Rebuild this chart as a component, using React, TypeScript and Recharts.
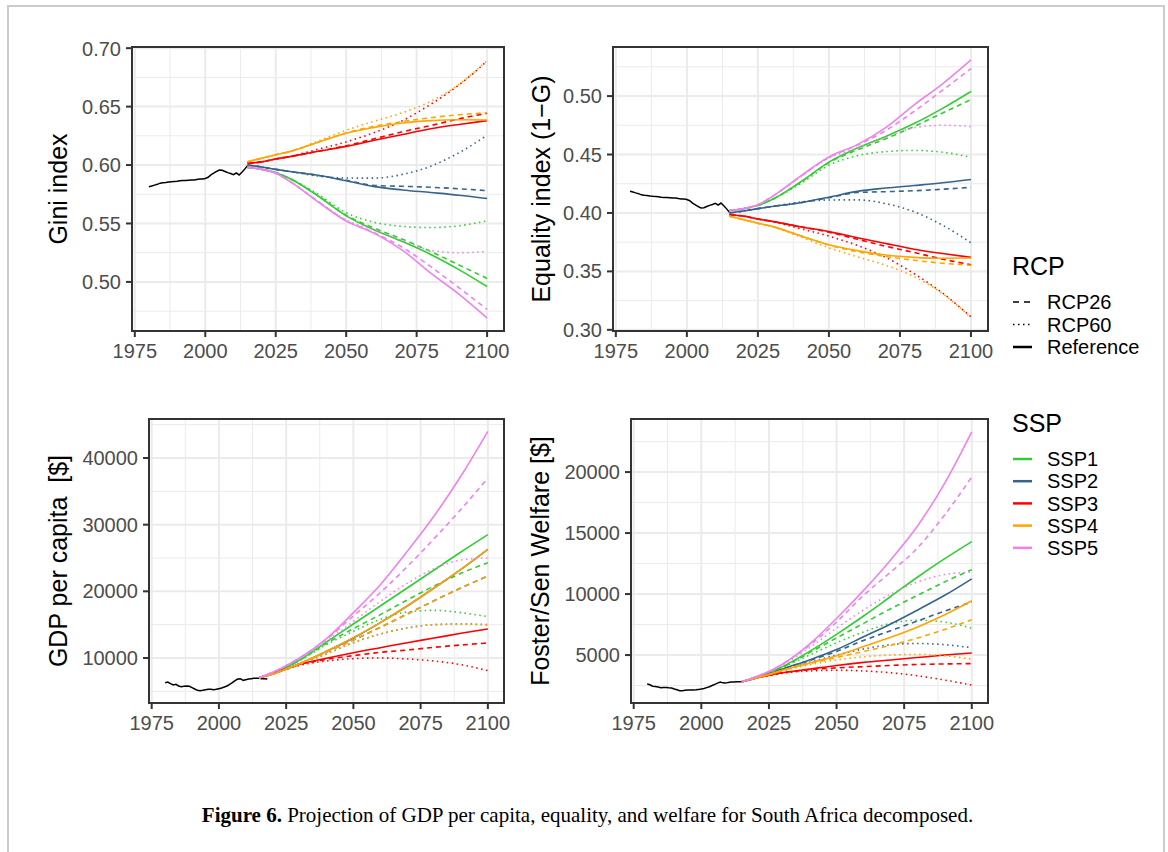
import { CartesianGrid, Line, LineChart, ReferenceArea, XAxis, YAxis } from 'recharts'

const FONT = '"Liberation Sans", Arial, Helvetica, sans-serif'

const SSPS = ['SSP1', 'SSP2', 'SSP3', 'SSP4', 'SSP5']
const RCPS = ['Reference', 'RCP26', 'RCP60']
const SSP_COLORS = ['#32CD32', '#36648B', '#FF0000', '#FFA500', '#EE82EE']

const X_DOMAIN: [number, number] = [1974, 2106]
const X_TICKS = [1975, 2000, 2025, 2050, 2075, 2100]
const X_MINOR = [1987.5, 2012.5, 2037.5, 2062.5, 2087.5]

const PROJ_YEARS = [2015, 2020, 2025, 2030, 2040, 2050, 2060, 2070, 2080, 2090, 2100]
const HIST_YEARS = [
	1980, 1981, 1982, 1983, 1984, 1985, 1986, 1987, 1988, 1989, 1990, 1991, 1992,
	1993, 1994, 1995, 1996, 1997, 1998, 1999, 2000, 2001, 2002, 2003, 2004, 2005,
	2006, 2007, 2008, 2009, 2010, 2011, 2012, 2013, 2014, 2015,
]
const GDP_HIST_YEARS = [...HIST_YEARS, 2016, 2017, 2018]

// Gini index
const GINI_HIST = [
	0.5815, 0.582, 0.5828, 0.5835, 0.5845, 0.5848, 0.585, 0.5855, 0.5858, 0.586,
	0.5862, 0.5865, 0.5867, 0.5867, 0.587, 0.5873, 0.5872, 0.5877, 0.588, 0.588,
	0.5885, 0.5895, 0.5915, 0.593, 0.5945, 0.5958, 0.5955, 0.5945, 0.5935, 0.5928,
	0.5918, 0.5932, 0.5915, 0.5938, 0.5965, 0.5995,
]
// rows: Reference, RCP26, RCP60
const GINI_SSP1 = [
	[0.598, 0.5963, 0.5935, 0.5885, 0.5735, 0.5565, 0.5445, 0.5345, 0.5235, 0.5105, 0.496],
	[0.598, 0.5963, 0.5935, 0.5885, 0.5738, 0.557, 0.546, 0.5365, 0.526, 0.5145, 0.503],
	[0.598, 0.5963, 0.5935, 0.5885, 0.575, 0.5592, 0.551, 0.5475, 0.5465, 0.548, 0.5523],
]
const GINI_SSP2 = [
	[0.6, 0.5983, 0.5963, 0.5945, 0.5912, 0.5865, 0.5815, 0.5787, 0.5765, 0.5742, 0.5714],
	[0.6, 0.5983, 0.5963, 0.5945, 0.5912, 0.587, 0.5825, 0.5818, 0.581, 0.5797, 0.5781],
	[0.6, 0.5983, 0.5963, 0.5945, 0.5906, 0.5889, 0.5888, 0.592, 0.599, 0.6105, 0.6255],
]
const GINI_SSP3 = [
	[0.6015, 0.6027, 0.6052, 0.6072, 0.6118, 0.616, 0.6212, 0.6262, 0.631, 0.6347, 0.638],
	[0.6015, 0.6027, 0.6052, 0.6072, 0.6118, 0.6165, 0.6225, 0.6285, 0.6338, 0.6395, 0.6443],
	[0.6015, 0.6027, 0.6052, 0.6074, 0.6135, 0.6198, 0.6278, 0.638, 0.652, 0.6685, 0.689],
]
const GINI_SSP4 = [
	[0.6028, 0.6058, 0.6088, 0.6115, 0.6195, 0.6272, 0.6322, 0.636, 0.638, 0.6388, 0.6386],
	[0.6028, 0.6058, 0.6088, 0.6115, 0.6195, 0.6275, 0.6332, 0.6372, 0.6405, 0.643, 0.6448],
	[0.6028, 0.6058, 0.6088, 0.6117, 0.6205, 0.6298, 0.6375, 0.6448, 0.6545, 0.669, 0.6895],
]
const GINI_SSP5 = [
	[0.598, 0.5963, 0.593, 0.586, 0.5685, 0.552, 0.5415, 0.527, 0.5075, 0.4895, 0.469],
	[0.598, 0.5963, 0.593, 0.586, 0.5688, 0.5525, 0.542, 0.5295, 0.513, 0.495, 0.4765],
	[0.598, 0.5963, 0.593, 0.586, 0.569, 0.553, 0.5445, 0.5355, 0.527, 0.525, 0.526],
]

// Equality index (1 - G)
const EQ_HIST = [
	0.4185, 0.418, 0.4172, 0.4165, 0.4155, 0.4152, 0.415, 0.4145, 0.4142, 0.414,
	0.4138, 0.4135, 0.4133, 0.4133, 0.413, 0.4127, 0.4128, 0.4123, 0.412, 0.412,
	0.4115, 0.4105, 0.4085, 0.407, 0.4055, 0.4042, 0.4045, 0.4055, 0.4065, 0.4072,
	0.4082, 0.4068, 0.4085, 0.4062, 0.4035, 0.4005,
]
const EQ_SSP1 = [
	[0.402, 0.4037, 0.4065, 0.4115, 0.4265, 0.4435, 0.4555, 0.4655, 0.4765, 0.4895, 0.504],
	[0.402, 0.4037, 0.4065, 0.4115, 0.4262, 0.443, 0.454, 0.4635, 0.474, 0.4855, 0.497],
	[0.402, 0.4037, 0.4065, 0.4115, 0.425, 0.4408, 0.449, 0.4525, 0.4535, 0.452, 0.4477],
]
const EQ_SSP2 = [
	[0.4, 0.4017, 0.4037, 0.4055, 0.4088, 0.4135, 0.4185, 0.4213, 0.4235, 0.4258, 0.4286],
	[0.4, 0.4017, 0.4037, 0.4055, 0.4088, 0.413, 0.4175, 0.4182, 0.419, 0.4203, 0.4219],
	[0.4, 0.4017, 0.4037, 0.4055, 0.4094, 0.4111, 0.4112, 0.408, 0.401, 0.3895, 0.3745],
]
const EQ_SSP3 = [
	[0.3985, 0.3973, 0.3948, 0.3928, 0.3882, 0.384, 0.3788, 0.3738, 0.369, 0.3653, 0.362],
	[0.3985, 0.3973, 0.3948, 0.3928, 0.3882, 0.3835, 0.3775, 0.3715, 0.3662, 0.3605, 0.3557],
	[0.3985, 0.3973, 0.3948, 0.3926, 0.3865, 0.3802, 0.3722, 0.362, 0.348, 0.3315, 0.311],
]
const EQ_SSP4 = [
	[0.3972, 0.3942, 0.3912, 0.3885, 0.3805, 0.3728, 0.3678, 0.364, 0.362, 0.3612, 0.3614],
	[0.3972, 0.3942, 0.3912, 0.3885, 0.3805, 0.3725, 0.3668, 0.3628, 0.3595, 0.357, 0.3552],
	[0.3972, 0.3942, 0.3912, 0.3883, 0.3795, 0.3702, 0.3625, 0.3552, 0.3455, 0.331, 0.3105],
]
const EQ_SSP5 = [
	[0.402, 0.4037, 0.407, 0.414, 0.4315, 0.448, 0.4585, 0.473, 0.4925, 0.5105, 0.531],
	[0.402, 0.4037, 0.407, 0.414, 0.4312, 0.4475, 0.458, 0.4705, 0.487, 0.505, 0.5235],
	[0.402, 0.4037, 0.407, 0.414, 0.431, 0.447, 0.4555, 0.4645, 0.473, 0.475, 0.474],
]

// GDP per capita [$]
const GDP_HIST = [
	6300, 6400, 6150, 5950, 6050, 5800, 5700, 5750, 5800, 5750, 5550, 5350, 5150,
	5100, 5150, 5250, 5300, 5300, 5250, 5300, 5400, 5500, 5650, 5800, 6050, 6300,
	6600, 6850, 6900, 6650, 6750, 6850, 6900, 6950, 6950, 6950, 6900, 6900, 6850,
]
const GDP_SSP1 = [
	[7050, 7750, 8600, 9700, 12400, 15100, 17800, 20500, 23200, 25900, 28500],
	[7050, 7750, 8600, 9650, 12200, 14400, 16500, 18700, 20800, 22700, 24300],
	[7050, 7750, 8600, 9600, 12000, 14000, 15800, 16900, 17150, 16800, 16200],
]
const GDP_SSP2 = [
	[7050, 7600, 8350, 9150, 11000, 13000, 15300, 17800, 20500, 23300, 26300],
	[7050, 7600, 8350, 9150, 10900, 12700, 14600, 16600, 18600, 20500, 22300],
	[7050, 7600, 8350, 9100, 10600, 12300, 13600, 14500, 15000, 15100, 15000],
]
const GDP_SSP3 = [
	[7050, 7700, 8350, 9050, 9950, 10800, 11550, 12300, 13000, 13700, 14350],
	[7050, 7700, 8350, 9000, 9800, 10350, 10850, 11200, 11600, 11950, 12250],
	[7050, 7700, 8300, 8900, 9550, 9900, 10000, 9850, 9550, 9000, 8100],
]
const GDP_SSP4 = [
	[7050, 7600, 8350, 9150, 11000, 13050, 15300, 17800, 20500, 23300, 26300],
	[7050, 7600, 8350, 9150, 10900, 12700, 14600, 16600, 18600, 20500, 22300],
	[7050, 7600, 8350, 9100, 10600, 12300, 13600, 14500, 15000, 15050, 14950],
]
const GDP_SSP5 = [
	[7050, 7850, 8850, 10000, 12900, 16800, 21000, 26000, 31300, 37300, 44000],
	[7050, 7850, 8850, 10000, 12800, 16300, 19800, 23700, 27900, 32300, 37000],
	[7050, 7850, 8850, 9950, 12500, 15500, 18500, 21200, 23400, 24700, 25000],
]

// Foster/Sen welfare [$]
const WELFARE_HIST = [
	2620, 2560, 2450, 2420, 2380, 2330, 2350, 2350, 2320, 2300, 2220, 2150, 2080,
	2070, 2110, 2130, 2140, 2130, 2150, 2180, 2210, 2260, 2330, 2400, 2500, 2600,
	2700, 2780, 2720, 2700, 2760, 2790, 2800, 2810, 2810, 2810,
]
const WELFARE_SSP1 = [
	[2820, 3150, 3550, 4050, 5300, 6700, 8200, 9800, 11400, 12900, 14300],
	[2820, 3150, 3550, 4000, 5200, 6400, 7600, 8800, 9900, 11000, 12000],
	[2820, 3150, 3550, 4000, 5000, 6000, 6900, 7600, 7850, 7700, 7200],
]
const WELFARE_SSP2 = [
	[2820, 3100, 3450, 3850, 4600, 5450, 6500, 7550, 8700, 9900, 11250],
	[2820, 3100, 3450, 3850, 4550, 5300, 6200, 7000, 7800, 8600, 9350],
	[2820, 3100, 3450, 3800, 4400, 5000, 5500, 5850, 5950, 5850, 5600],
]
const WELFARE_SSP3 = [
	[2820, 3100, 3350, 3550, 3850, 4150, 4400, 4600, 4800, 5000, 5170],
	[2820, 3100, 3350, 3550, 3800, 3950, 4050, 4150, 4230, 4270, 4300],
	[2820, 3100, 3300, 3500, 3700, 3750, 3700, 3550, 3300, 2950, 2540],
]
const WELFARE_SSP4 = [
	[2820, 3100, 3400, 3750, 4350, 4950, 5700, 6450, 7300, 8300, 9450],
	[2820, 3100, 3400, 3750, 4300, 4800, 5300, 5800, 6400, 7100, 7900],
	[2820, 3100, 3400, 3700, 4200, 4600, 4850, 5000, 5050, 4950, 4650],
]
const WELFARE_SSP5 = [
	[2820, 3200, 3650, 4250, 5900, 8000, 10300, 12800, 15600, 19100, 23300],
	[2820, 3200, 3650, 4250, 5800, 7700, 9900, 11800, 13800, 16500, 19600],
	[2820, 3200, 3650, 4200, 5600, 7200, 8700, 10000, 11000, 11600, 11800],
]

const RCP_DASH: Record<string, string | undefined> = {
	Reference: undefined,
	RCP26: '5 4',
	RCP60: '1.5 3.5',
}

type Point = { year: number; value: number }

const toPoints = (years: number[], values: number[]): Point[] =>
	years.map((year, i) => ({ year, value: values[i] }))

interface PanelProps {
	left: number
	top: number
	plotWidth: number
	plotHeight: number
	yDomain: [number, number]
	yTicks: number[]
	yMinor: number[]
	decimals: number
	hist: Point[]
	scenarios: number[][][]
	title: string
	titleX: number
}

function Panel({
	left,
	top,
	plotWidth,
	plotHeight,
	yDomain,
	yTicks,
	yMinor,
	decimals,
	hist,
	scenarios,
	title,
	titleX,
}: PanelProps) {
	const yw = 90
	const mt = 10
	const mr = 12
	const xh = 40
	const tickStyle = { fontSize: 20, fill: '#4D4D4D', fontFamily: FONT }

	return (
		<>
			<div style={{ position: 'absolute', left: left - yw, top: top - mt }}>
				<LineChart
					height={mt + plotHeight + xh}
					margin={{ top: mt, right: mr, bottom: 0, left: 0 }}
					width={yw + plotWidth + mr}
				>
					<CartesianGrid
						horizontalValues={yMinor}
						stroke="#EBEBEB"
						strokeWidth={1}
						verticalValues={X_MINOR}
					/>
					<CartesianGrid
						horizontalValues={yTicks}
						stroke="#EBEBEB"
						strokeWidth={2}
						verticalValues={X_TICKS}
					/>
					<XAxis
						allowDataOverflow
						axisLine={false}
						dataKey="year"
						domain={X_DOMAIN}
						height={xh}
						tick={tickStyle}
						tickLine={{ stroke: '#333333', strokeWidth: 2 }}
						tickMargin={7}
						tickSize={6}
						ticks={X_TICKS}
						type="number"
					/>
					<YAxis
						allowDataOverflow
						axisLine={false}
						domain={yDomain}
						tick={tickStyle}
						tickFormatter={(v: number) => v.toFixed(decimals)}
						tickLine={{ stroke: '#333333', strokeWidth: 2 }}
						tickMargin={5}
						tickSize={6}
						ticks={yTicks}
						type="number"
						width={yw}
					/>
					<Line
						data={hist}
						dataKey="value"
						dot={false}
						activeDot={false}
						isAnimationActive={false}
						stroke="#000000"
						strokeWidth={1.5}
						type="linear"
					/>
					{scenarios.map((rows, s) =>
						rows.map((row, r) => (
							<Line
								activeDot={false}
								data={toPoints(PROJ_YEARS, row)}
								dataKey="value"
								dot={false}
								isAnimationActive={false}
								key={`${SSPS[s]}-${RCPS[r]}`}
								name={`${SSPS[s]} ${RCPS[r]}`}
								stroke={SSP_COLORS[s]}
								strokeDasharray={RCP_DASH[RCPS[r]]}
								strokeWidth={1.6}
								type="monotone"
							/>
						)),
					)}
					<ReferenceArea
						fill="none"
						ifOverflow="visible"
						stroke="#333333"
						strokeWidth={2}
						x1={X_DOMAIN[0]}
						x2={X_DOMAIN[1]}
						y1={yDomain[0]}
						y2={yDomain[1]}
					/>
				</LineChart>
			</div>
			<div
				style={{
					position: 'absolute',
					left: titleX,
					top: top + plotHeight / 2,
					transform: 'translate(-50%, -50%) rotate(-90deg)',
					fontFamily: FONT,
					fontSize: 25,
					lineHeight: 1,
					whiteSpace: 'pre',
					color: '#000000',
				}}
			>
				{title}
			</div>
		</>
	)
}

function Legend() {
	const labelStyle = { fontFamily: FONT, fontSize: 20, fill: '#000000' }
	const titleStyle = { fontFamily: FONT, fontSize: 25, fill: '#000000' }
	return (
		<svg
			height={330}
			style={{ position: 'absolute', left: 1000, top: 240 }}
			width={168}
		>
			<text style={titleStyle} x={12} y={35}>
				RCP
			</text>
			{['RCP26', 'RCP60', 'Reference'].map((rcp, i) => {
				const y = 62 + i * 22.5
				return (
					<g key={rcp}>
						<line
							stroke="#000000"
							strokeDasharray={
								rcp === 'RCP26' ? '6 5' : rcp === 'RCP60' ? '1.5 3.5' : undefined
							}
							strokeWidth={rcp === 'Reference' ? 2.5 : 1.6}
							x1={13}
							x2={32}
							y1={y}
							y2={y}
						/>
						<text style={labelStyle} x={47} y={y + 7.2}>
							{rcp}
						</text>
					</g>
				)
			})}
			<text style={titleStyle} x={12} y={192}>
				SSP
			</text>
			{SSPS.map((ssp, i) => {
				const y = 219 + i * 22.2
				return (
					<g key={ssp}>
						<line
							stroke={SSP_COLORS[i]}
							strokeWidth={2.5}
							x1={13}
							x2={32}
							y1={y}
							y2={y}
						/>
						<text style={labelStyle} x={47} y={y + 7.2}>
							{ssp}
						</text>
					</g>
				)
			})}
		</svg>
	)
}

export default function App() {
	return (
		<div
			style={{
				position: 'absolute',
				left: 0,
				top: 0,
				width: 1168,
				height: 852,
				overflow: 'hidden',
				background: '#ffffff',
			}}
		>
			<div
				style={{
					position: 'absolute',
					left: 7,
					top: 5,
					width: 1158,
					height: 900,
					boxSizing: 'border-box',
					borderTop: '2px solid #CCCCCC',
					borderLeft: '2px solid #CCCCCC',
					borderRight: '2px solid #CCCCCC',
				}}
			/>
			<Panel
				decimals={2}
				hist={toPoints(HIST_YEARS, GINI_HIST)}
				left={132}
				plotHeight={284}
				plotWidth={372}
				scenarios={[GINI_SSP1, GINI_SSP2, GINI_SSP3, GINI_SSP4, GINI_SSP5]}
				title="Gini index"
				titleX={58}
				top={47}
				yDomain={[0.458, 0.701]}
				yMinor={[0.475, 0.525, 0.575, 0.625, 0.675]}
				yTicks={[0.5, 0.55, 0.6, 0.65, 0.7]}
			/>
			<Panel
				decimals={2}
				hist={toPoints(HIST_YEARS, EQ_HIST)}
				left={613}
				plotHeight={284}
				plotWidth={375}
				scenarios={[EQ_SSP1, EQ_SSP2, EQ_SSP3, EQ_SSP4, EQ_SSP5]}
				title="Equality index (1−G)"
				titleX={541}
				top={47}
				yDomain={[0.299, 0.542]}
				yMinor={[0.325, 0.375, 0.425, 0.475, 0.525]}
				yTicks={[0.3, 0.35, 0.4, 0.45, 0.5]}
			/>
			<Panel
				decimals={0}
				hist={toPoints(GDP_HIST_YEARS, GDP_HIST)}
				left={149}
				plotHeight={284}
				plotWidth={355}
				scenarios={[GDP_SSP1, GDP_SSP2, GDP_SSP3, GDP_SSP4, GDP_SSP5]}
				title="GDP per capita  [$]"
				titleX={58}
				top={419}
				yDomain={[3250, 45850]}
				yMinor={[5000, 15000, 25000, 35000, 45000]}
				yTicks={[10000, 20000, 30000, 40000]}
			/>
			<Panel
				decimals={0}
				hist={toPoints(HIST_YEARS, WELFARE_HIST)}
				left={631}
				plotHeight={284}
				plotWidth={357}
				scenarios={[WELFARE_SSP1, WELFARE_SSP2, WELFARE_SSP3, WELFARE_SSP4, WELFARE_SSP5]}
				title="Foster/Sen Welfare [$]"
				titleX={540}
				top={419}
				yDomain={[1070, 24350]}
				yMinor={[2500, 7500, 12500, 17500, 22500]}
				yTicks={[5000, 10000, 15000, 20000]}
			/>
			<Legend />
			<div
				style={{
					position: 'absolute',
					left: 0,
					top: 805,
					width: 1175,
					textAlign: 'center',
					fontFamily: '"Liberation Serif", "DejaVu Serif", serif',
					fontSize: 21,
					lineHeight: 1,
					color: '#000000',
				}}
			>
				<b>Figure 6.</b> Projection of GDP per capita, equality, and welfare for South
				Africa decomposed.
			</div>
		</div>
	)
}
